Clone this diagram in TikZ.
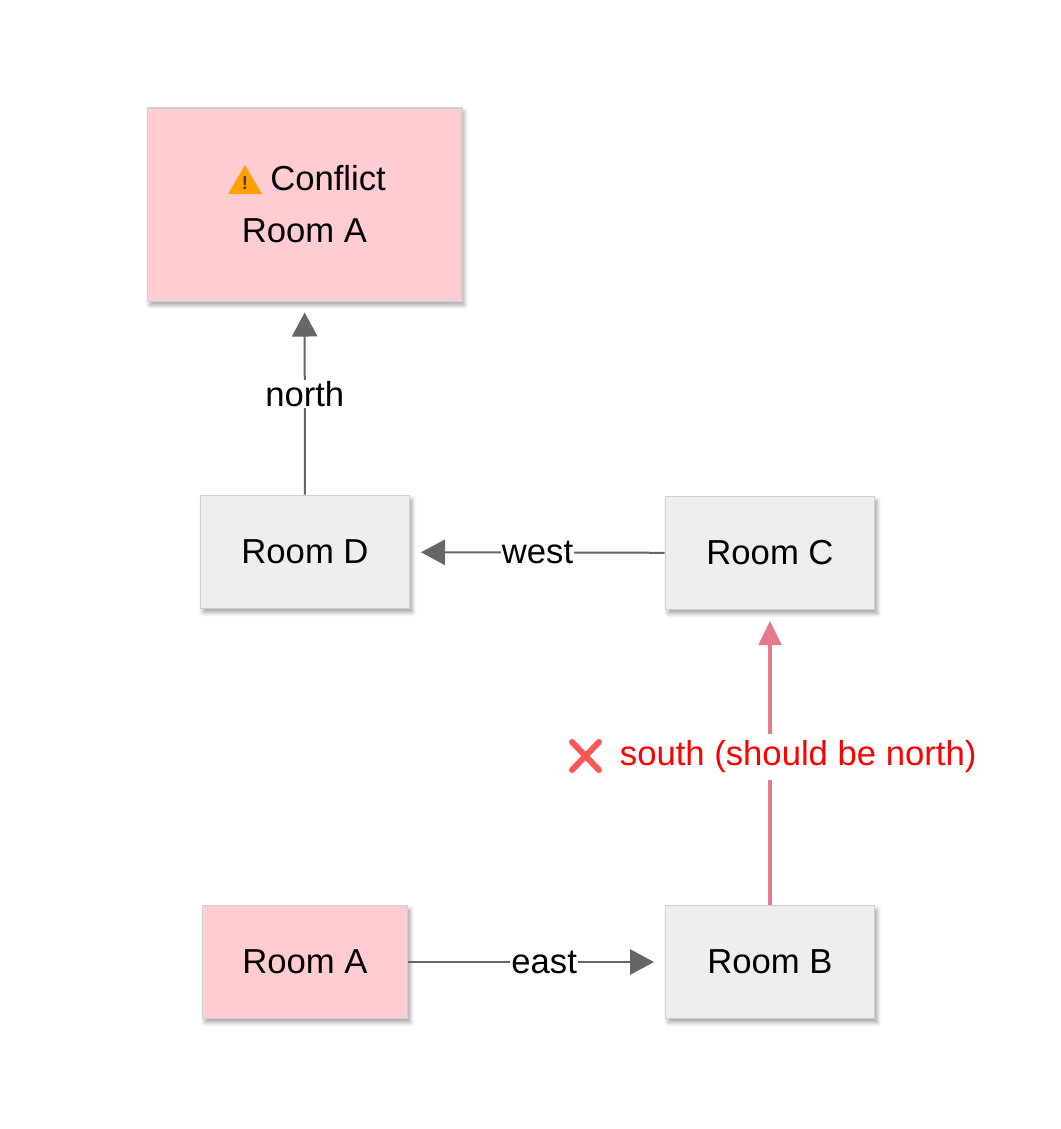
\documentclass[tikz,border=0pt]{standalone}
\usepackage{fontspec}
\setmainfont{Liberation Sans}
\usetikzlibrary{arrows.meta,shadows.blur}
\definecolor{pinkf}{HTML}{FFCCD2}
\definecolor{grayf}{HTML}{EEEEEE}
\definecolor{bord}{HTML}{D0D0D0}
\definecolor{edge}{HTML}{666666}
\definecolor{redge}{HTML}{E57A8A}
\begin{document}
\begin{tikzpicture}[x=0.75pt,y=-0.75pt,
  txt/.style={font=\fontsize{26}{30}\selectfont},
  box/.style={draw=bord,line width=1pt,inner sep=0pt,txt,
    blur shadow={shadow xshift=2pt,shadow yshift=-3pt,shadow blur radius=3pt,shadow opacity=35}},
  room/.style={box,fill=grayf,minimum width=157pt,minimum height=85pt},
  lab/.style={fill=white,inner sep=1pt,txt},
  arr/.style={draw=edge,line width=1.5pt,shorten >=8pt,-{Triangle[length=18pt,width=19pt]}},
  rarr/.style={draw=redge,line width=2.3pt,shorten >=8pt,-{Triangle[length=18pt,width=17pt]}}]
\useasboundingbox (0,0) rectangle (1061,1129);
\node[box,fill=pinkf,minimum width=236pt,minimum height=145pt] (conf) at (304.5,204.5) {};
\node[txt,anchor=west,inner sep=0pt] (ct) at (270,178) {Conflict};
\fill[orange!75!yellow] (245,165) -- (262,194) -- (228,194) -- cycle;
\node[font=\bfseries\fontsize{14}{14}\selectfont,text=black!75] (ex) at (245,183) {!};
\node[txt,inner sep=0pt] (ca) at (304.5,231) {Room A};
\node[room] (d) at (305,552) {Room D};
\node[room] (c) at (770,553) {Room C};
\node[room,fill=pinkf,minimum width=154pt] (a) at (305,962) {Room A};
\node[room] (b) at (770,962) {Room B};
\draw[arr] (d) -- node[lab,pos=0.52]{north} (conf);
\draw[arr] (c) -- node[lab,pos=0.5]{west} (d);
\draw[arr] (a) -- node[lab,pos=0.53]{east} (b);
\draw[rarr] (b) -- (c);
\node[fill=white,inner sep=5pt,txt,text=red,anchor=west] (sl) at (613,757) {south (should be north)};
\draw[line width=4.5pt,line cap=round,color=red!55!pink] (572,742)--(599,770) (572,770)--(599,742);
\end{tikzpicture}
\end{document}
